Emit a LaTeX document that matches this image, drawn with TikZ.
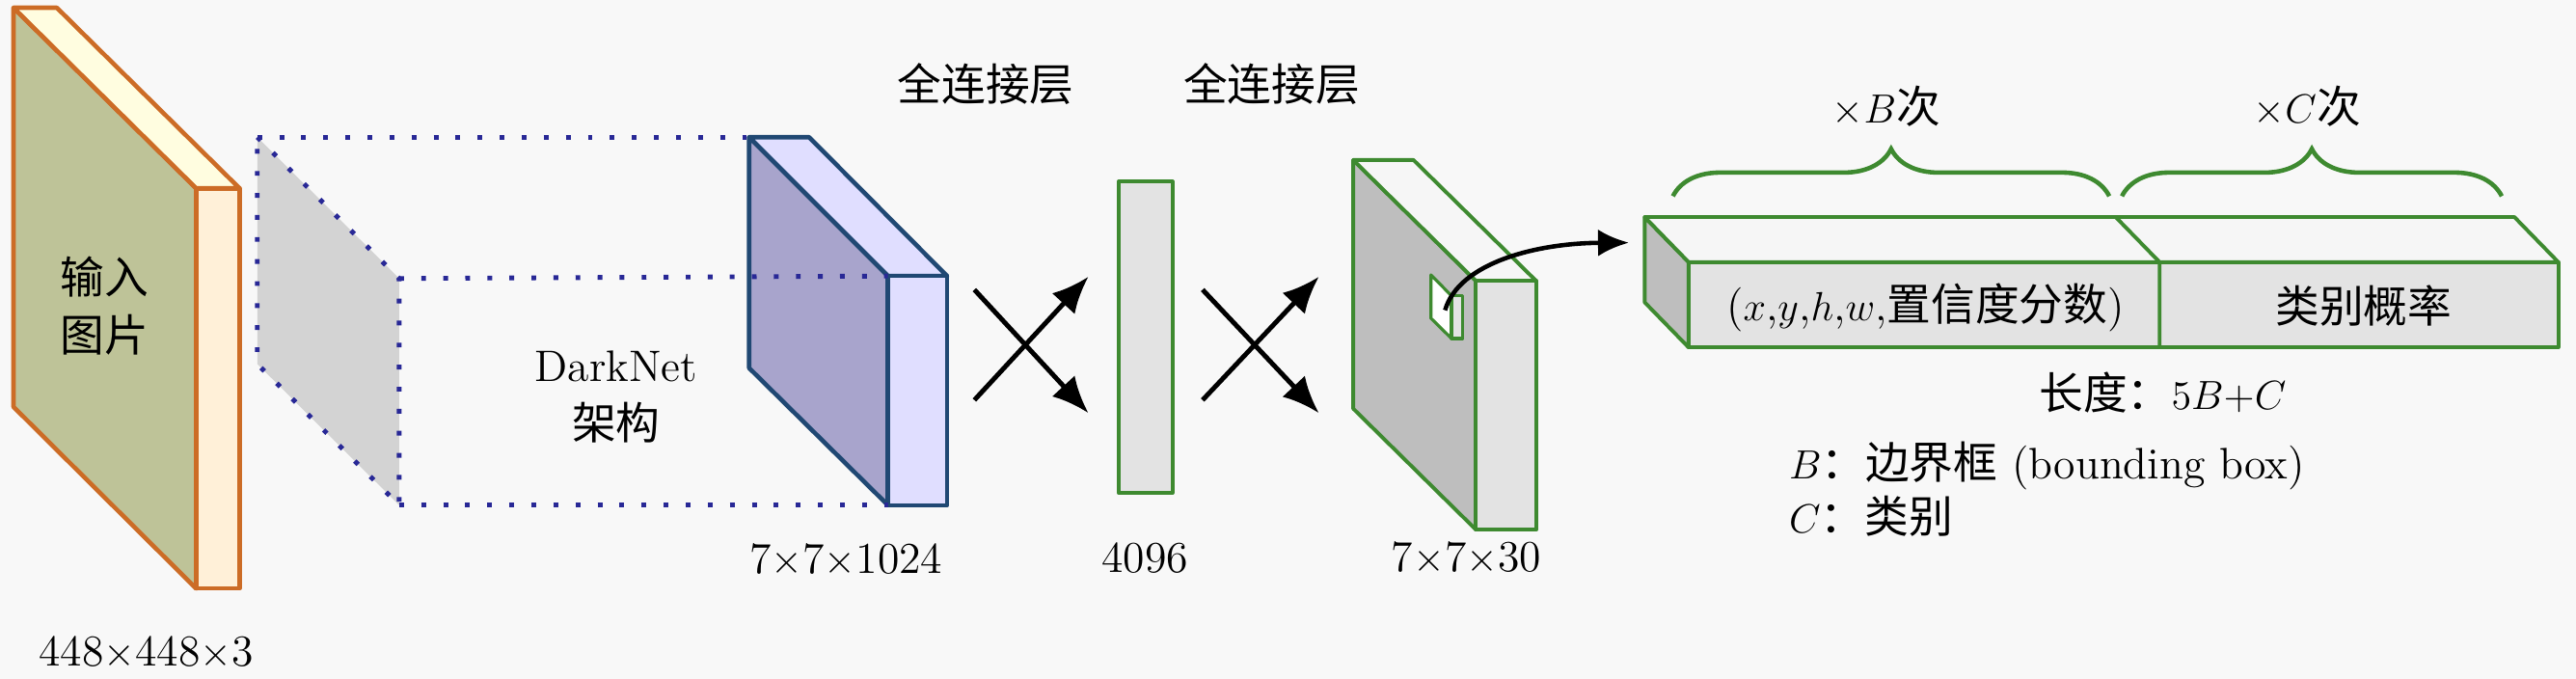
\documentclass[tikz,border=0pt]{standalone}
\usepackage{fontspec}
\newfontfamily\cjk{Noto Sans CJK SC}
\usetikzlibrary{arrows.meta,decorations.pathreplacing}
\definecolor{bgc}{RGB}{248,248,248}
\definecolor{orfront}{RGB}{190,195,152}
\definecolor{oredge}{RGB}{204,108,38}
\definecolor{orside}{RGB}{255,240,216}
\definecolor{ortop}{RGB}{255,253,224}
\definecolor{blfront}{RGB}{168,164,204}
\definecolor{blside}{RGB}{224,222,255}
\definecolor{bledge}{RGB}{32,72,115}
\definecolor{gredge}{RGB}{62,138,48}
\definecolor{grfront}{RGB}{190,190,190}
\definecolor{grside}{RGB}{227,227,227}
\definecolor{grtop}{RGB}{246,246,246}
\definecolor{dotc}{RGB}{40,40,150}
\definecolor{gplane}{RGB}{211,211,211}
\begin{document}
\begin{tikzpicture}[x=0.0170344cm,y=-0.0170344cm,
  every node/.style={inner sep=0pt,outer sep=0pt},
  lbl/.style={font=\fontsize{13}{17}\selectfont,align=center},
  orbox/.style={draw=oredge,line width=1.3pt,line join=round},
  blbox/.style={draw=bledge,line width=1.3pt,line join=round},
  grbox/.style={draw=gredge,line width=1.1pt,line join=round},
  dotline/.style={dotc,line width=1.4pt,dash pattern=on 1.4pt off 5.1pt},
  xarrow/.style={-{Latex[length=3.8mm,width=3.2mm]},line width=1.4pt,black},
  carrow/.style={-{Latex[length=3.2mm,width=2.8mm]},line width=1.3pt,black},
  brc/.style={gredge,line width=1.3pt,decorate,decoration={brace,amplitude=0.49cm}}]
\fill[bgc] (0,0) rectangle (1568,413);
\useasboundingbox (0,0) rectangle (1568,413);

% ---- input image box (orange)
\coordinate (oTL) at (8.2,4.7);
\coordinate (oTR) at (119.4,114.6);
\coordinate (oBR) at (119.4,358.2);
\coordinate (oBL) at (8.2,247.6);
\coordinate (oTLb) at (34.6,4.7);
\coordinate (oTRb) at (145.8,114.6);
\coordinate (oBRb) at (145.8,358.2);
\filldraw[orbox,fill=orfront] (oTL) -- (oTR) -- (oBR) -- (oBL) -- cycle;
\filldraw[orbox,fill=ortop] (oTL) -- (oTLb) -- (oTRb) -- (oTR) -- cycle;
\filldraw[orbox,fill=orside] (oTR) -- (oTRb) -- (oBRb) -- (oBR) -- cycle;
\node[lbl] (inlbl) at (63.6,186.3) {\cjk 输入\\\cjk 图片};
\node[lbl] (insize) at (89,397.5) {448$\times$448$\times$3};

% ---- gray receptive plane
\coordinate (gTL) at (156.6,83.5);
\coordinate (gTR) at (243,169.5);
\coordinate (gBR) at (243,307.5);
\coordinate (gBL) at (156.6,221.5);
\fill[gplane] (gTL) -- (gTR) -- (gBR) -- (gBL) -- cycle;
\draw[dotline] (gTL) -- (gTR) -- (gBR) -- (gBL) -- cycle;

% ---- darknet output box (blue)
\coordinate (bTL) at (456,83.5);
\coordinate (bTR) at (540.5,168);
\coordinate (bBR) at (540.5,307.5);
\coordinate (bBL) at (456,224);
\coordinate (bTLb) at (492.5,83.5);
\coordinate (bTRb) at (576.5,168);
\coordinate (bBRb) at (576.5,307.5);
\filldraw[blbox,fill=blfront] (bTL) -- (bTR) -- (bBR) -- (bBL) -- cycle;
\filldraw[blbox,fill=blside] (bTL) -- (bTLb) -- (bTRb) -- (bTR) -- cycle;
\filldraw[blbox,fill=blside] (bTR) -- (bTRb) -- (bBRb) -- (bBR) -- cycle;
\draw[dotline] (gTL) -- (bTL);
\draw[dotline] (gTR) -- (bTR);
\draw[dotline] (gBR) -- (bBR);
\node[lbl] (dark) at (375,241.5) {DarkNet\\\cjk 架构};
\node[lbl] (bsize) at (515,340.8) {7$\times$7$\times$1024};

% ---- fully connected labels
\node[lbl] (fc1) at (600,51.3) {\cjk 全连接层};
\node[lbl] (fc2) at (774,51.3) {\cjk 全连接层};

% ---- cross arrows 1
\coordinate (c1a) at (593.1,176.3);
\coordinate (c1b) at (662.5,251.4);
\coordinate (c1c) at (593.1,243.5);
\coordinate (c1d) at (662.5,168.4);
\draw[xarrow] (c1a) -- (c1b);
\draw[xarrow] (c1c) -- (c1d);

% ---- vector 4096
\filldraw[grbox,fill=grside] (680.9,110.5) rectangle (713.6,300);
\node[lbl] (vsize) at (697,339.5) {4096};

% ---- cross arrows 2
\coordinate (c2a) at (732,176.3);
\coordinate (c2b) at (802.8,251.4);
\coordinate (c2c) at (732,243.5);
\coordinate (c2d) at (802.8,168.4);
\draw[xarrow] (c2a) -- (c2b);
\draw[xarrow] (c2c) -- (c2d);

% ---- output tensor (green)
\coordinate (tTL) at (823.7,97.4);
\coordinate (tTR) at (898.4,171);
\coordinate (tBR) at (898.4,322.4);
\coordinate (tBL) at (823.7,248.7);
\coordinate (tTLb) at (860.4,97.4);
\coordinate (tTRb) at (935.1,171);
\coordinate (tBRb) at (935.1,322.4);
\filldraw[grbox,fill=grfront] (tTL) -- (tTR) -- (tBR) -- (tBL) -- cycle;
\filldraw[grbox,fill=grtop] (tTL) -- (tTLb) -- (tTRb) -- (tTR) -- cycle;
\filldraw[grbox,fill=grside] (tTR) -- (tTRb) -- (tBRb) -- (tBR) -- cycle;
% small cell
\filldraw[grbox,line width=0.9pt,fill=white] (871,167.3) -- (883.5,180) -- (883.5,206) -- (871,193.7) -- cycle;
\filldraw[grbox,line width=0.9pt,fill=grside] (883.5,180) -- (890.3,180) -- (890.3,206) -- (883.5,206) -- cycle;
\coordinate (cell) at (879.6,188.8);
\node[lbl] (tsize) at (892.6,339.5) {7$\times$7$\times$30};

% ---- long vector box
\coordinate (lBLt) at (1001.1,132.1);
\coordinate (lFLt) at (1027.8,159.5);
\coordinate (lFLb) at (1027.8,211.4);
\coordinate (lBLb) at (1001.1,184);
\coordinate (lBRt) at (1530.5,132.1);
\coordinate (lFRt) at (1557.2,159.5);
\coordinate (lFRb) at (1557.2,211.4);
\coordinate (lBMt) at (1287.8,132.1);
\coordinate (lFMt) at (1314.5,159.5);
\coordinate (lFMb) at (1314.5,211.4);
\filldraw[grbox,fill=grfront] (lBLt) -- (lFLt) -- (lFLb) -- (lBLb) -- cycle;
\filldraw[grbox,fill=grtop] (lBLt) -- (lBRt) -- (lFRt) -- (lFLt) -- cycle;
\filldraw[grbox,fill=grside] (lFLt) -- (lFRt) -- (lFRb) -- (lFLb) -- cycle;
\draw[grbox] (lBMt) -- (lFMt) -- (lFMb);
\node[lbl] (part1) at (1172,187) {($x$,$y$,$h$,$w$,{\cjk 置信度分数})};
\node[lbl] (part2) at (1438.7,186) {\cjk 类别概率};
\coordinate (ltip) at (991.5,147.7);
\draw[carrow] (cell) .. controls (888,160) and (935,148) .. (ltip);

% ---- braces
\coordinate (br1a) at (1018.3,119.4);
\coordinate (br1b) at (1283.9,119.4);
\coordinate (br2a) at (1291.6,119.4);
\coordinate (br2b) at (1522.8,119.4);
\draw[brc] (br1a) -- (br1b);
\draw[brc] (br2a) -- (br2b);
\node[lbl] (tB) at (1148.2,64.6) {$\times B${\cjk 次}};
\node[lbl] (tC) at (1404.3,64.6) {$\times C${\cjk 次}};

% ---- notes
\node[lbl] (len) at (1316.4,238.8) {{\cjk 长度：}$5B{+}C$};
\node[lbl,anchor=west] (noteB) at (1089,283.7) {$B${\cjk ：边界框} (bounding box)};
\node[lbl,anchor=west] (noteC) at (1089,314) {$C${\cjk ：类别}};
\end{tikzpicture}
\end{document}
